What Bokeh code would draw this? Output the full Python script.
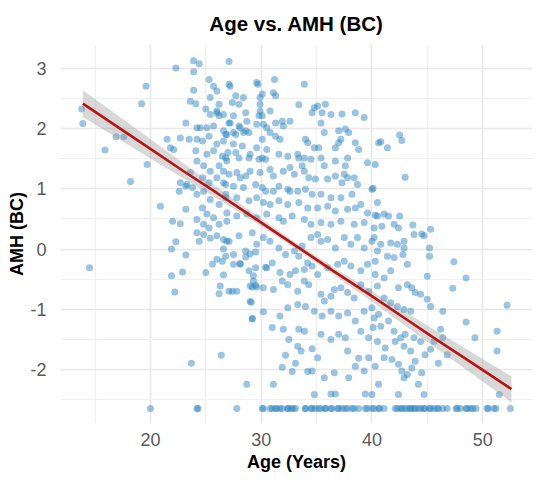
from bokeh.plotting import figure
from bokeh.models import FixedTicker, Range1d
from bokeh.embed import file_html
from bokeh.resources import INLINE

# ---- data (Age in years, AMH Box-Cox) ----
pts_left_sparse = [(13.8,2.32),(13.9,2.08),(14.5,-0.31),(15.9,1.64),(16.9,1.86),(17.6,1.86),(18.2,1.12),
    (19.2,2.41),(19.6,2.70),(19.7,1.40),(20.9,0.71),(21.5,1.82),(21.8,1.68),(22.1,1.65),(22.7,1.84),
    (23.5,1.82),(22.0,0.46),(22.7,0.42),(23.2,0.66),(22.6,0.96),(23.3,1.07),(23.8,1.02),(22.3,3.00),
    (23.9,3.12),(24.4,3.07),(23.9,2.94),(23.2,2.09)]

pts_upper_left = [(25.3,2.81),(25.7,2.70),(26.0,2.62),(25.4,2.51),(26.2,2.40),(23.9,2.63),(23.6,2.45),
    (24.1,2.41),(25.0,2.32),(25.4,2.23),(26.0,2.26),(26.2,2.21),(25.1,2.01),(25.7,2.04),(26.6,1.96),
    (27.1,2.09),(24.2,1.82),(24.7,1.79),(25.3,1.87),(26.0,1.74),(26.6,1.79),(26.9,1.90),(24.1,1.63),
    (25.1,1.57),(25.7,1.63),(26.5,1.54),(24.2,1.46),(24.8,1.38),(25.4,1.29),(26.2,1.38),(26.9,1.46),
    (23.6,1.27),(22.7,1.10),(23.2,1.04),(24.7,1.18),(25.3,1.10),(26.0,1.18),(26.6,1.10),(24.2,0.91),
    (24.8,0.96),(25.4,0.82),(26.2,0.74),(26.8,0.91),(24.7,0.68),(25.1,0.58),(24.2,0.49),(24.8,0.41),
    (25.7,0.52),(26.2,0.41),(26.9,0.46),(25.3,0.35),(24.2,2.01),(24.5,2.01),(26.0,2.29),(27.5,1.93),
    (28.1,2.01),(28.6,1.96),(29.6,2.07),(30.1,2.21),(30.8,2.29),(29.6,2.76)]

pts_upper_mid = [(27.1,3.11),(27.1,2.73),(27.2,2.70),(29.7,2.73),(31.2,2.81),(33.9,2.73),(31.1,2.59),
    (31.3,2.54),(27.7,2.54),(28.4,2.51),(29.9,2.51),(30.1,2.57),(27.4,2.43),(28.0,2.40),(29.9,2.40),
    (29.9,2.29),(33.4,2.39),(34.8,2.34),(34.6,2.26),(35.1,2.37),(35.8,2.40),(35.5,2.26),(36.3,2.23),
    (37.3,2.24),(38.5,2.26),(39.3,2.18),(28.6,2.26),(29.8,2.21),(27.5,2.21),(26.6,2.23),(28.7,2.12),
    (27.2,2.09),(28.0,2.04),(31.3,2.09),(31.9,2.12),(32.6,2.12),(32.0,2.04),(30.2,2.07),(30.5,2.01),
    (35.4,2.09),(37.0,1.96),(37.9,1.93),(37.6,1.99),(35.7,1.93),(26.8,1.90),(27.7,1.90),(28.4,1.93),
    (28.9,1.93),(30.1,1.82),(31.3,1.87),(31.7,1.82),(30.8,1.93),(34.0,1.82),(34.2,1.76),(34.8,1.68),
    (35.2,1.68),(36.7,1.68),(37.2,1.82),(37.0,1.76),(38.5,1.76),(38.8,1.65),(40.6,1.76),(27.5,1.74),
    (28.3,1.71),(29.6,1.68),(30.5,1.65),(26.8,1.51),(27.0,1.60),(27.7,1.60),(28.0,1.51),(28.9,1.51),
    (29.0,1.57),(29.8,1.49),(30.1,1.51),(30.4,1.49),(31.6,1.57),(32.4,1.54),(33.3,1.57),(33.4,1.51),
    (33.9,1.51),(34.5,1.49),(35.4,1.51),(35.7,1.38),(36.7,1.46),(37.6,1.38),(37.8,1.51),(39.6,1.43),
    (40.3,1.40),(26.6,1.29),(27.1,1.24),(27.8,1.27),(28.1,1.18),(28.6,1.21),(29.0,1.29),(29.9,1.27),
    (30.8,1.32),(31.1,1.21),(32.0,1.29),(32.6,1.35),(33.0,1.24),(33.7,1.38),(33.9,1.29),(34.3,1.18),
    (34.9,1.16),(36.0,1.16),(36.7,1.21),(37.5,1.24),(37.8,1.18),(37.3,1.10),(38.4,1.18),(38.7,1.07),
    (40.0,0.99),(26.8,1.07),(27.5,1.04),(28.4,1.02),(29.5,1.07),(30.1,1.02),(30.4,0.96),(31.1,0.96),
    (31.6,1.04),(32.4,0.99),(32.6,0.96),(33.3,0.96),(34.0,0.99),(34.6,0.91),(35.4,0.91),(36.3,0.85),
    (37.2,0.85),(38.2,0.91),(39.0,0.74),(26.8,0.85),(27.8,0.85),(28.9,0.80),(29.6,0.85),(30.2,0.77),
    (30.8,0.74),(31.6,0.80),(32.4,0.74),(33.4,0.77),(34.2,0.68),(35.1,0.68),(36.0,0.71),(36.7,0.63),
    (37.8,0.66),(38.5,0.68),(39.6,0.60),(40.5,0.55),(26.9,0.60),(27.8,0.55),(28.7,0.58),(29.6,0.52),
    (30.5,0.58),(31.6,0.52),(32.0,0.46),(32.8,0.55),(33.9,0.49),(34.5,0.41),(35.4,0.44),(36.3,0.41),
    (37.2,0.46),(38.4,0.41),(39.3,0.44),(40.2,0.35)]

pts_upper_right = [(40.8,1.78),(41.4,1.68),(42.5,1.89),(42.7,1.80),(43.0,1.19),(40.1,1.01),(40.5,0.77),
    (40.3,0.56),(41.1,0.58),(41.5,0.55),(42.5,0.55),(43.7,0.40),(45.3,0.33),(40.9,0.38),(42.0,0.41),
    (42.4,0.35),(44.5,0.25)]

pts_lower_left = [(22.3,0.12),(21.9,0.00),(23.2,-0.10),(21.9,-0.44),(22.9,-0.38),(22.2,-0.71),(25.0,-0.39),
    (25.6,-0.25),(26.0,-0.17),(26.6,0.00),(26.6,-0.43),(26.3,-0.61),(26.2,-0.74),(27.1,-0.70),(26.4,-1.76),
    (23.7,-1.89),(29.1,-0.88),(29.2,-1.16),(28.1,-0.24),(28.6,-0.13),(29.0,-0.08),(29.5,-0.05),(29.3,-0.44),
    (29.5,-0.60),(30.4,-0.30),(29.2,-0.63),(29.6,-0.63),(24.2,0.27),(24.8,0.24),(25.4,0.18),(26.0,0.22),
    (26.6,0.16),(27.1,0.13),(24.4,0.13)]

pts_lower_mid = [(26.9,0.13),(28.0,0.22),(29.2,0.27),(30.2,0.19),(29.6,0.08),(28.6,-0.03),(27.5,-0.09),
    (26.8,-0.12),(30.8,0.13),(31.6,0.02),(32.2,-0.09),(33.0,-0.03),(33.4,-0.12),(34.2,-0.23),(33.7,0.05),
    (34.5,0.19),(35.1,0.24),(35.4,0.13),(36.0,0.16),(36.7,0.02),(37.5,0.19),(38.1,0.08),(38.7,0.19),
    (39.3,0.02),(40.0,0.13),(40.5,-0.03),(26.5,-0.20),(27.5,-0.25),(28.1,-0.25),(28.9,-0.36),(29.5,-0.31),
    (30.5,-0.31),(31.0,-0.23),(31.7,-0.39),(32.6,-0.42),(33.1,-0.36),(33.9,-0.34),(34.6,-0.28),(35.1,-0.42),
    (36.0,-0.31),(36.9,-0.25),(37.5,-0.20),(38.1,-0.28),(39.0,-0.36),(39.6,-0.25),(40.3,-0.20),(27.4,-0.70),
    (27.8,-0.70),(29.0,-0.61),(29.3,-0.53),(30.2,-0.64),(31.1,-0.67),(31.9,-0.53),(32.4,-0.59),(33.3,-0.70),
    (33.9,-0.53),(34.3,-0.59),(35.4,-0.75),(35.7,-0.86),(36.3,-0.78),(36.6,-0.67),(37.2,-0.64),(37.8,-0.72),
    (38.4,-0.81),(39.0,-0.59),(39.7,-0.70),(40.5,-0.61),(29.0,-0.87),(30.2,-1.04),(29.2,-1.15),(31.7,-1.11),
    (32.4,-0.97),(33.3,-0.92),(34.0,-0.95),(34.8,-1.03),(35.5,-1.11),(36.3,-1.03),(37.0,-1.11),(37.8,-1.06),
    (38.5,-1.19),(39.3,-1.03),(40.0,-0.97),(40.6,-1.08),(31.0,-1.30),(32.0,-1.33),(33.4,-1.33),(33.9,-1.36),
    (32.5,-1.50),(35.4,-1.41),(36.3,-1.50),(37.0,-1.41),(37.6,-1.47),(39.0,-1.36),(39.7,-1.47),(40.1,-1.30),
    (33.3,-1.61),(33.6,-1.69),(34.6,-1.65),(32.2,-1.76),(31.9,-1.96),(35.1,-1.80),(37.8,-1.69),(38.8,-1.81),
    (39.7,-1.80),(33.1,-1.89),(32.8,-2.03),(34.2,-2.03),(34.6,-2.02),(35.7,-2.13),(36.6,-2.05),(37.9,-2.13),
    (38.5,-1.94),(39.3,-2.02),(28.7,-2.24),(31.1,-2.24),(34.8,-2.41),(36.3,-2.40),(36.7,-2.40),(39.4,-2.40),
    (40.0,-2.41)]

pts_lower_right = [(40.2,0.19),(40.8,0.08),(41.7,0.10),(42.3,0.08),(42.9,0.13),(43.8,0.24),(44.7,0.22),
    (45.2,0.02),(45.2,-0.12),(41.4,-0.12),(42.0,-0.14),(42.8,-0.09),(43.2,-0.25),(42.9,0.02),(47.4,-0.21),
    (48.5,-0.48),(47.3,-0.65),(45.0,-0.45),(52.2,-0.93),(40.3,-0.42),(41.1,-0.48),(41.7,-0.36),(42.4,-0.64),
    (43.2,-0.59),(43.6,-0.64),(43.9,-0.72),(44.4,-0.75),(45.0,-0.83),(45.3,-0.95),(41.1,-0.81),(41.7,-0.89),
    (42.3,-0.95),(42.9,-1.00),(43.5,-1.03),(46.4,-1.03),(48.5,-1.21),(49.3,-1.47),(51.3,-1.36),(51.3,-1.69),
    (46.2,-1.33),(46.4,-1.47),(45.6,-1.53),(45.3,-1.66),(44.8,-1.75),(46.0,-1.89),(46.8,-1.75),(40.2,-1.14),
    (40.8,-1.28),(41.5,-1.19),(42.0,-1.36),(42.6,-1.47),(43.0,-1.41),(43.8,-1.47),(44.4,-1.53),(40.5,-1.53),
    (41.2,-1.64),(42.1,-1.53),(42.9,-1.61),(43.5,-1.69),(41.1,-1.80),(41.8,-1.83),(42.4,-1.91),(42.7,-2.02),
    (43.2,-2.08),(43.6,-1.97),(43.9,-1.86),(44.5,-2.05),(40.3,-1.94),(40.6,-2.24),(42.9,-2.13),(44.2,-2.24),
    (42.4,-2.41),(44.7,-2.41),(51.5,-2.41)]

# bottom-coded observations (all at the lowest AMH value)
floor_amh = -2.64
floor_ages = [20.0, 24.2, 24.3, 27.8, 30.1, 30.2, 30.8, 31.0, 31.4, 31.9, 32.4, 32.7, 33.1, 34.0, 34.5,
    34.9, 35.4, 35.8, 36.3, 36.9, 37.3, 37.8, 38.4, 38.8, 39.6, 40.2, 40.6, 41.1, 42.3, 42.7, 43.2, 43.5,
    43.8, 44.2, 44.7, 45.2, 45.6, 46.0, 46.8, 47.7, 48.6, 49.1, 50.4, 51.0, 52.5,
    31.3, 31.7, 32.4, 32.9, 34.0, 34.6, 35.2, 35.8, 36.4, 37.0, 37.6, 38.2, 39.4, 40.0, 40.7, 42.1, 42.6,
    43.0, 43.5, 43.9, 44.4, 44.8, 45.3, 45.9, 46.4, 47.6, 48.0, 48.5, 48.9, 49.4, 50.5, 51.2]

# linear fit and its 95% band
fit_age = [13.9, 17.0, 20.0, 23.0, 26.0, 29.5, 33.0, 36.5, 40.0, 43.0, 46.0, 49.0, 52.6]
fit_amh = [2.41, 2.03, 1.66, 1.29, 0.93, 0.50, 0.07, -0.36, -0.78, -1.15, -1.52, -1.88, -2.32]
band_hi = [2.63, 2.22, 1.82, 1.42, 1.03, 0.57, 0.12, -0.30, -0.70, -1.04, -1.38, -1.71, -2.11]
band_lo = [2.19, 1.84, 1.50, 1.17, 0.84, 0.44, 0.02, -0.42, -0.87, -1.27, -1.67, -2.06, -2.54]

x_ticks = [20, 30, 40, 50]
x_minor = [15, 25, 35, 45]
y_ticks = [-2, -1, 0, 1, 2, 3]
y_minor = [-2.5, -1.5, -0.5, 0.5, 1.5, 2.5]
y_labels = {-2: "-2", -1: "-1", 0: "0", 1: "1", 2: "2", 3: "3"}

all_pts = (pts_left_sparse + pts_upper_left + pts_upper_mid + pts_upper_right
           + pts_lower_left + pts_lower_mid + pts_lower_right)
ages = [a for a, _ in all_pts] + floor_ages
amh = [b for _, b in all_pts] + [floor_amh] * len(floor_ages)

FONT = "Liberation Sans"

p = figure(width=542, height=474, output_backend="svg", toolbar_location=None,
           x_range=Range1d(11.88, 54.5), y_range=Range1d(-2.89, 3.39),
           min_border_left=60, min_border_right=10, min_border_top=43, min_border_bottom=51,
           title="Age vs. AMH (BC)")
p.outline_line_color = None
p.background_fill_color = "white"
p.border_fill_color = "white"

p.title.align = "center"
p.title.text_font = FONT
p.title.text_font_size = "20.5px"
p.title.text_font_style = "bold"
p.title.text_color = "black"
p.title.standoff = 19

p.xaxis.ticker = FixedTicker(ticks=x_ticks, minor_ticks=x_minor)
p.yaxis.ticker = FixedTicker(ticks=y_ticks, minor_ticks=y_minor)
p.yaxis.major_label_overrides = y_labels

for ax in (p.xaxis[0], p.yaxis[0]):
    ax.axis_line_color = None
    ax.major_tick_line_color = None
    ax.minor_tick_line_color = None
    ax.major_tick_out = 0
    ax.major_tick_in = 0
    ax.major_label_text_font = FONT
    ax.major_label_text_font_size = "18px"
    ax.major_label_text_color = "#5a5a5a"
    ax.axis_label_text_font = FONT
    ax.axis_label_text_font_size = "18px"
    ax.axis_label_text_font_style = "bold"
    ax.axis_label_text_color = "black"

p.xaxis.axis_label = "Age (Years)"
p.yaxis.axis_label = "AMH (BC)"
p.xaxis.major_label_standoff = 5
p.xaxis.axis_label_standoff = 3
p.yaxis.major_label_standoff = 10
p.yaxis.axis_label_standoff = 0

for g in (p.xgrid[0], p.ygrid[0]):
    g.grid_line_color = "#e8e8e8"
    g.grid_line_width = 1.6
    g.minor_grid_line_color = "#f0f0f0"
    g.minor_grid_line_width = 1.2

p.scatter(ages, amh, size=7, fill_color="#2b83c0", fill_alpha=0.48, line_color=None)
p.varea(x=fit_age, y1=band_lo, y2=band_hi, fill_color="#999999", fill_alpha=0.38)
p.line(fit_age, fit_amh, line_color="#b81414", line_width=2.6)

open("out.html", "w").write(file_html(p, INLINE))
